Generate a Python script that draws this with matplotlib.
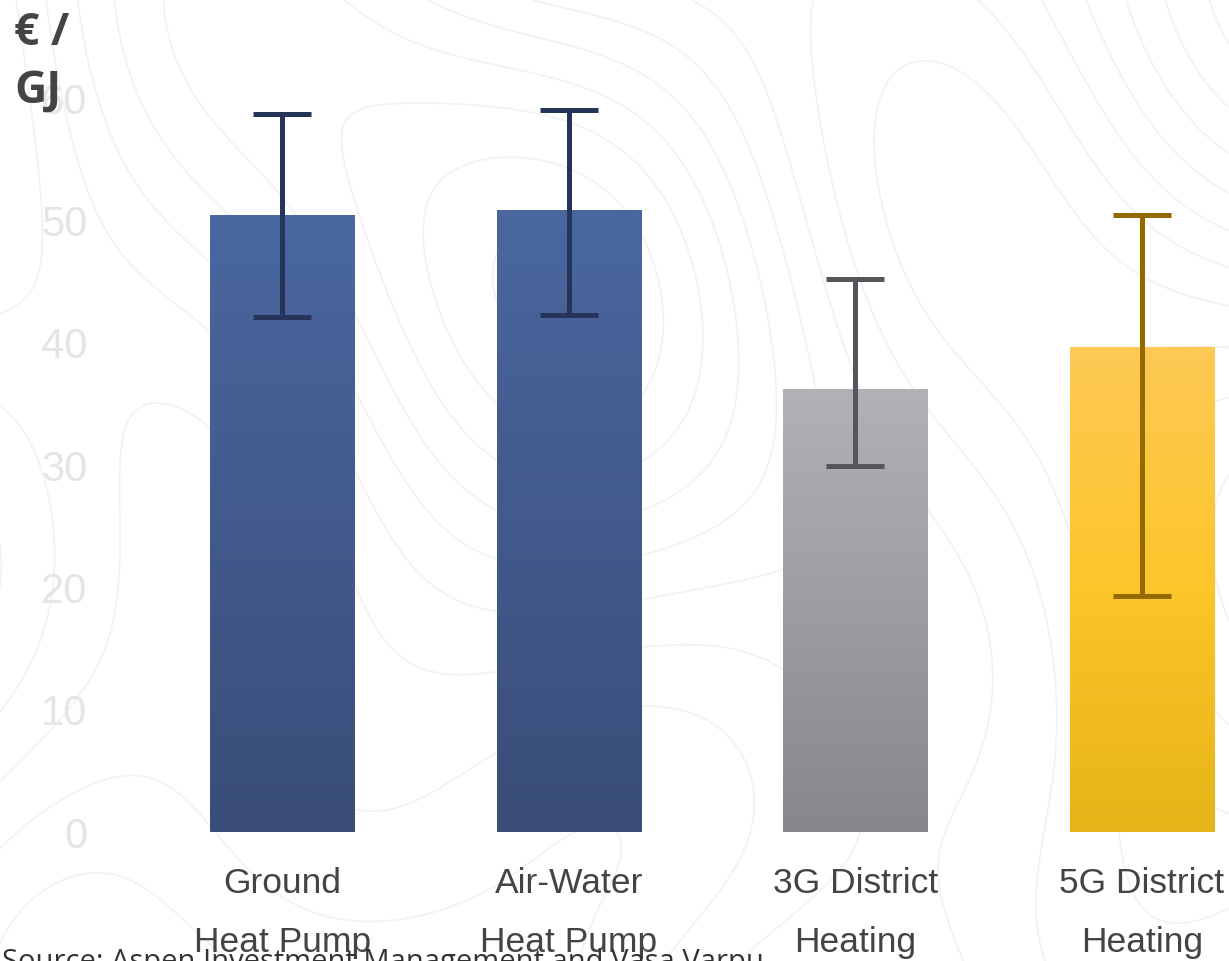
import numpy as np
import matplotlib
matplotlib.use("Agg")
import matplotlib.pyplot as plt
from matplotlib.colors import LinearSegmentedColormap

categories = ["Ground\nHeat Pump", "Air-Water\nHeat Pump", "3G District\nHeating", "5G District\nHeating"]
values = [50.4, 50.8, 36.2, 39.6]
err_low = [42.1, 42.3, 29.9, 19.3]
err_high = [58.7, 59.0, 45.2, 50.4]
yticks = [0, 10, 20, 30, 40, 50, 60]

grad_colors = [
    ["#3a4d78", "#4a67a0"],
    ["#3a4d78", "#4a67a0"],
    ["#86868c", "#b2b2b6"],
    ["#e6b418", "#fcc52a", "#fec955"],
]
err_colors = ["#25355a", "#25355a", "#55555b", "#936a00"]

W, H = 1229, 961
fig = plt.figure(figsize=(W / 100, H / 100), dpi=100)
fig.patch.set_facecolor("white")

# decorative topographic background
bg = fig.add_axes([0, 0, 1, 1], zorder=0)
bg.set_axis_off()
gx = np.linspace(0, 12.29, 400)
gy = np.linspace(0, 9.61, 320)
X, Y = np.meshgrid(gx, gy)
Z = (np.sin(0.55 * X + 0.3 * Y) + 0.8 * np.cos(0.45 * Y - 0.2 * X + 1.0)
     + 0.5 * np.sin(0.9 * X * 0.7 + 0.8 * Y + 2.0) + 0.35 * np.cos(1.1 * X - 0.5 * Y))
bg.contour(X, Y, Z, levels=14, colors="#f2f2f2", linewidths=1.2, linestyles="solid")
bg.set_xlim(0, 12.29)
bg.set_ylim(0, 9.61)

# main axes
left_px, spacing = 139, 286.5
x0 = -0.5
x1 = x0 + (W - left_px) / spacing
bottom_px = 832
ppu = 12.233
ymax = 63
top_px = bottom_px - ymax * ppu
ax = fig.add_axes([left_px / W, (H - bottom_px) / H, (W - left_px) / W, (bottom_px - top_px) / H], zorder=1)
ax.patch.set_alpha(0)
ax.set_xlim(x0, x1)
ax.set_ylim(0, ymax)

xs = np.arange(len(categories))
bars = ax.bar(xs, values, width=0.503, color="none", edgecolor="none")
for i, b in enumerate(bars):
    cmap = LinearSegmentedColormap.from_list(f"g{i}", grad_colors[i])
    grad = np.linspace(0, 1, 256).reshape(-1, 1)
    ax.imshow(grad, cmap=cmap, origin="lower", aspect="auto",
              extent=[b.get_x(), b.get_x() + b.get_width(), 0, b.get_height()], zorder=2)

for i in range(len(categories)):
    lo = values[i] - err_low[i]
    hi = err_high[i] - values[i]
    ax.errorbar(xs[i], values[i], yerr=[[lo], [hi]], fmt="none", ecolor=err_colors[i],
                elinewidth=3.6, capsize=21, capthick=3.6, zorder=3)

ax.set_xlim(x0, x1)
ax.set_ylim(0, ymax)
ax.set_xticks(xs)
ax.set_xticklabels(categories, fontfamily="Liberation Sans", fontsize=25.5, color="#444444",
                   linespacing=2.0)
ax.set_yticks(yticks)
ax.set_yticklabels([str(t) for t in yticks], fontfamily="Liberation Sans", fontsize=30,
                   color="#e4e6e6")
ax.tick_params(axis="x", length=0, pad=25)
ax.tick_params(axis="y", length=0, pad=37)
for s in ax.spines.values():
    s.set_visible(False)

fig.text(14 / W, 1 - 11 / H, "€ /\nGJ", fontfamily="Open Sans", fontweight="bold", fontsize=32,
         color="#444444", va="top", ha="left", linespacing=1.38, zorder=5)
fig.text(2 / W, 1 - 948 / H, "Source: Aspen Investment Management and Vasa Varpu…",
         fontfamily="Open Sans", fontsize=21, color="#333333", va="top", ha="left", zorder=5)

fig.savefig("out.png", dpi=100, facecolor="white")
